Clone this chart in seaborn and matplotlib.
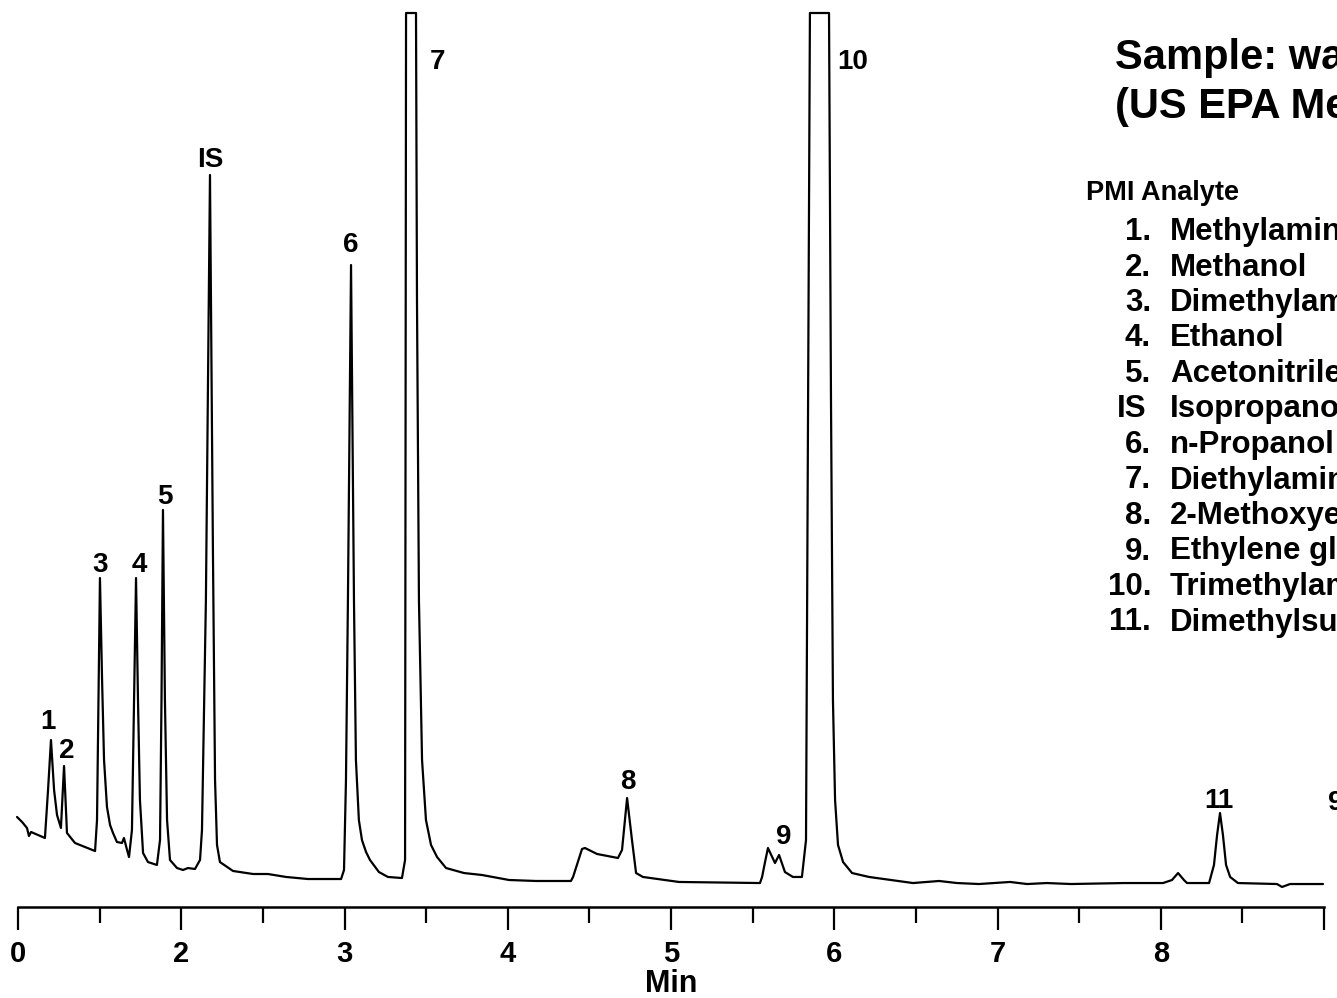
import matplotlib
matplotlib.use("Agg")
import matplotlib.pyplot as plt
import pandas as pd
import seaborn as sns

# chromatogram trace: retention time (min) and detector signal
rt = [0.994, 1.025, 1.055, 1.067, 1.080, 1.123, 1.165, 1.184, 1.202, 1.221,
      1.239, 1.263, 1.282, 1.300, 1.349, 1.410, 1.472, 1.484, 1.493, 1.502,
      1.515, 1.527, 1.545, 1.564, 1.582, 1.606, 1.637, 1.649, 1.668, 1.680,
      1.698, 1.711, 1.723, 1.735, 1.747, 1.766, 1.796, 1.851, 1.870, 1.879,
      1.888, 1.900, 1.913, 1.931, 1.974, 2.011, 2.041, 2.084, 2.115, 2.127,
      2.151, 2.176, 2.194, 2.207, 2.219, 2.237, 2.317, 2.440, 2.531, 2.642,
      2.776, 2.979, 2.997, 3.009, 3.021, 3.040, 3.058, 3.070, 3.088, 3.107,
      3.132, 3.156, 3.211, 3.266, 3.352, 3.371, 3.377, 3.438, 3.444, 3.456,
      3.475, 3.499, 3.530, 3.567, 3.622, 3.732, 3.842, 4.008, 4.173, 4.387,
      4.400, 4.455, 4.473, 4.547, 4.675, 4.700, 4.731, 4.761, 4.786, 4.828,
      5.049, 5.545, 5.558, 5.576, 5.594, 5.637, 5.662, 5.698, 5.747, 5.802,
      5.827, 5.851, 5.968, 5.980, 5.992, 6.005, 6.023, 6.054, 6.109, 6.213,
      6.348, 6.482, 6.642, 6.752, 6.887, 7.077, 7.181, 7.303, 7.450, 7.775,
      8.014, 8.069, 8.106, 8.142, 8.161, 8.296, 8.326, 8.345, 8.363, 8.381,
      8.400, 8.425, 8.473, 8.712, 8.743, 8.792, 8.871, 8.994]
signal = [10.07, 9.51, 8.84, 7.94, 8.39, 8.05, 7.72, 13.09, 18.68, 13.09,
          10.29, 8.84, 15.77, 8.28, 7.16, 6.71, 6.26, 9.73, 23.15, 36.80,
          25.39, 16.44, 11.19, 9.17, 8.28, 7.27, 7.16, 7.72, 6.38, 5.59,
          8.61, 23.15, 36.80, 23.15, 11.97, 6.04, 5.03, 4.70, 7.49, 23.15,
          44.41, 23.15, 9.73, 5.26, 4.36, 4.14, 4.36, 4.25, 5.26, 8.61,
          34.34, 81.88, 39.93, 14.21, 6.94, 5.03, 4.03, 3.69, 3.69, 3.36,
          3.13, 3.13, 4.14, 14.21, 34.34, 71.81, 34.34, 16.44, 9.73, 7.49,
          6.15, 5.26, 3.91, 3.36, 3.24, 5.26, 100.0, 100.0, 67.90, 34.34,
          16.44, 9.73, 6.94, 5.59, 4.36, 3.80, 3.58, 3.02, 2.91, 2.91,
          3.36, 6.49, 6.60, 5.93, 5.48, 6.38, 12.19, 7.49, 3.80, 3.36,
          2.80, 2.68, 3.36, 5.03, 6.60, 4.92, 5.82, 3.91, 3.36, 3.36,
          7.49, 100.0, 100.0, 56.71, 23.15, 11.97, 6.94, 5.03, 3.80, 3.36,
          3.02, 2.68, 2.91, 2.68, 2.57, 2.80, 2.57, 2.68, 2.57, 2.68,
          2.68, 3.02, 3.80, 3.02, 2.68, 2.68, 4.70, 8.05, 10.51, 8.05,
          4.70, 3.36, 2.68, 2.57, 2.24, 2.57, 2.57, 2.57]

# peak labels
peak_names = ["1", "2", "3", "4", "5", "IS", "6", "7", "8", "9", "10", "11"]
peak_rt = [1.184, 1.300, 1.502, 1.741, 1.900, 2.176, 3.040, 3.567, 4.737, 5.692, 6.115, 8.357]
peak_lab_y = [20.69, 17.45, 38.26, 38.26, 45.86, 83.56, 74.05, 94.52, 13.98, 7.83, 94.52, 11.86]

tick_pos = [1, 2, 3, 4, 5, 6, 7, 8, 9]
tick_labels = ["0", "2", "3", "4", "5", "6", "7", "8", ""]
minor_pos = [1.5, 2.5, 3.5, 4.5, 5.5, 6.5, 7.5, 8.5]

title_lines = ["Sample: wastewater", "(US EPA Method 1671)"]
legend_num = ["1.", "2.", "3.", "4.", "5.", "IS", "6.", "7.", "8.", "9.", "10.", "11."]
legend_name = ["Methylamine", "Methanol", "Dimethylamine", "Ethanol", "Acetonitrile",
               "Isopropanol", "n-Propanol", "Diethylamine", "2-Methoxyethanol",
               "Ethylene glycol", "Trimethylamine", "Dimethylsulfoxide"]

sns.set_theme(style="white")
plt.rcParams['font.family'] = ['Liberation Sans', 'DejaVu Sans']
plt.rcParams['font.weight'] = 'bold'
plt.rcParams['text.color'] = 'black'
plt.rcParams['axes.labelcolor'] = 'black'
plt.rcParams['xtick.color'] = 'black'

W, H = 1337, 998
fig = plt.figure(figsize=(W / 100, H / 100), dpi=100)
ax = fig.add_axes([18 / W, 1 - 907 / H, (1324 - 18) / W, (907 - 13) / H])
ax.patch.set_alpha(0)

df = pd.DataFrame({'rt': rt, 'signal': signal})
sns.lineplot(data=df, x='rt', y='signal', sort=False, estimator=None,
             color='black', lw=1.6, ax=ax, clip_on=False)

for name, x, y in zip(peak_names, peak_rt, peak_lab_y):
    ax.text(x, y, name, ha='center', va='center', fontsize=20, fontweight='bold')
# cut-off label at the right edge
ax.text(9.07, 11.63, "9", ha='center', va='center', fontsize=20, fontweight='bold', clip_on=False)

ax.set_xlim(1, 9)
ax.set_ylim(0, 100)
ax.set_yticks([])
ax.set_ylabel("")
ax.set_xticks(tick_pos)
ax.set_xticklabels(tick_labels, fontsize=21, fontweight='bold')
ax.set_xticks(minor_pos, minor=True)
ax.tick_params(axis='x', which='major', direction='out', length=16.5, width=1.6,
               pad=7, color='black', bottom=True)
ax.tick_params(axis='x', which='minor', direction='out', length=11.5, width=1.6,
               color='black', bottom=True)
ax.set_xlabel("Min", fontsize=22, fontweight='bold', labelpad=1)
for s in ['top', 'left', 'right']:
    ax.spines[s].set_visible(False)
ax.spines['bottom'].set_color('black')
ax.spines['bottom'].set_linewidth(1.8)

# title and analyte list (runs off the right edge like the original)
fig.text(1115 / W, 1 - 58 / H, title_lines[0], fontsize=30, fontweight='bold', va='center')
fig.text(1115 / W, 1 - 107 / H, title_lines[1], fontsize=30, fontweight='bold', va='center')
fig.text(1086 / W, 1 - 193 / H, "PMI Analyte", fontsize=19.5, fontweight='bold', va='center')
for i, (num, name) in enumerate(zip(legend_num, legend_name)):
    y = 1 - (232 + i * 35.5) / H
    if num == "IS":
        fig.text(1117 / W, y, num, fontsize=22.5, fontweight='bold', va='center', ha='left')
    else:
        fig.text(1151 / W, y, num, fontsize=22.5, fontweight='bold', va='center', ha='right')
    fig.text(1170 / W, y, name, fontsize=22.5, fontweight='bold', va='center', ha='left')

fig.savefig("out.png", dpi=100)
